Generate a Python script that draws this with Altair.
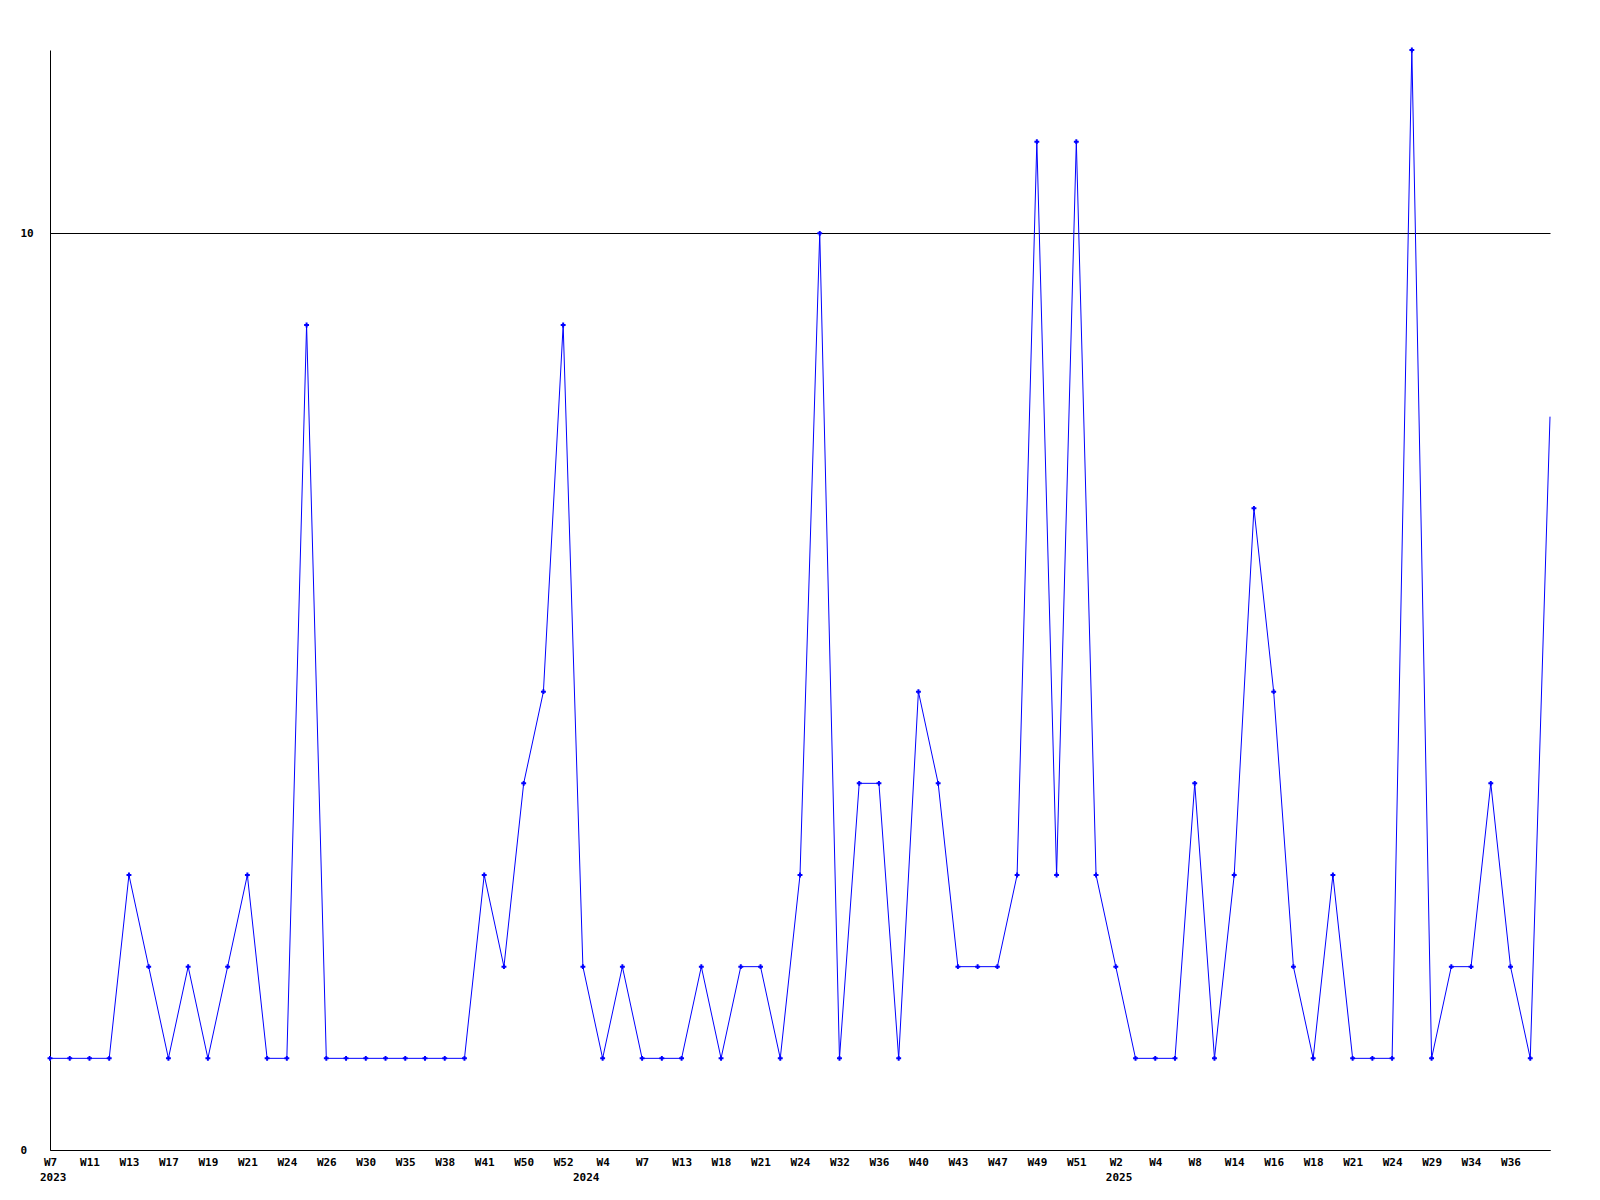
import altair as alt
import pandas as pd

years = [2023] * 27 + [2024] * 27 + [2025] * 23
weeks = [7, 9, 11, 12, 13, 15, 17, 18, 19, 20, 21, 23, 24, 25, 26, 28, 30, 33, 35, 37, 38, 40, 41, 45, 50, 51, 52,
         1, 4, 6, 7, 10, 13, 15, 18, 20, 21, 23, 24, 28, 32, 34, 36, 38, 40, 41, 43, 45, 47, 48, 49, 50, 51, 52, 2,
         3, 4, 6, 8, 11, 14, 15, 16, 17, 18, 20, 21, 23, 24, 26, 29, 31, 34, 35, 36, 37, 38]
values = [1, 1, 1, 1, 3, 2, 1, 2, 1, 2, 3, 1, 1, 9, 1, 1, 1, 1, 1, 1, 1, 1, 3, 2, 4, 5, 9,
          2, 1, 2, 1, 1, 1, 2, 1, 2, 2, 1, 3, 10, 1, 4, 4, 1, 5, 4, 2, 2, 2, 3, 11, 3, 11, 3,
          2, 1, 1, 1, 4, 1, 3, 7, 5, 2, 1, 3, 1, 1, 1, 12, 1, 2, 2, 4, 2, 1, 8]
year_first_index = [0, 27, 54]
year_labels = ["2023", "2024", "2025"]

keys = [f"{y}-W{w}" for y, w in zip(years, weeks)]
df = pd.DataFrame({"key": keys, "week": [f"W{w}" for w in weeks], "value": values})
df["marker"] = [True] * (len(df) - 1) + [False]

year_df = pd.DataFrame({"key": [keys[i] for i in year_first_index], "label": year_labels})

W, H = 1500, 1100
font = "DejaVu Sans Mono"

xscale = alt.Scale(type="point", padding=0, domain=keys)
xaxis = alt.Axis(
    values=keys[0:76:2], labelExpr="split(datum.value, '-')[1]", title=None,
    ticks=False, tickSize=0, labelPadding=6, labelFont=font, labelFontWeight="bold",
    labelFontSize=11, labelColor="black", domainColor="black", labelAngle=0,
    labelOverlap=False, grid=False, labelFlush=False,
)
yscale = alt.Scale(domain=[0, 12], nice=False, zero=True)
yaxis = alt.Axis(
    values=[0, 10], format="d", title=None, ticks=False, tickSize=0, labelPadding=30, labelAlign="left",
    labelFont=font, labelFontWeight="bold", labelFontSize=11, labelColor="black",
    domainColor="black", grid=True, gridColor="black", gridWidth=1, gridOpacity=1,
)

base = alt.Chart(df)
line = base.mark_line(color="#0000FF", strokeWidth=1).encode(
    x=alt.X("key:N", scale=xscale, axis=xaxis, sort=None),
    y=alt.Y("value:Q", scale=yscale, axis=yaxis),
)
pts = base.transform_filter("datum.marker").mark_point(
    shape="cross", filled=True, color="#0000FF", size=24, opacity=1
).encode(
    x=alt.X("key:N", scale=xscale, sort=None),
    y=alt.Y("value:Q", scale=yscale),
)
yrs = alt.Chart(year_df).mark_text(
    align="left", baseline="top", dx=-10, font=font, fontWeight="bold", fontSize=11, color="black"
).encode(
    x=alt.X("key:N", scale=xscale, sort=None),
    y=alt.value(H + 22),
    text="label:N",
)

chart = alt.layer(line, pts, yrs).properties(
    width=W, height=H,
    autosize=alt.AutoSizeParams(type="none"),
    padding={"left": 42, "top": 42, "right": 42, "bottom": 42},
    view=alt.ViewBackground(strokeOpacity=0, strokeWidth=0),
).configure_view(strokeOpacity=0, strokeWidth=0).configure(background="white")

chart.save("out.html", embed_options={"renderer": "svg", "actions": False})
